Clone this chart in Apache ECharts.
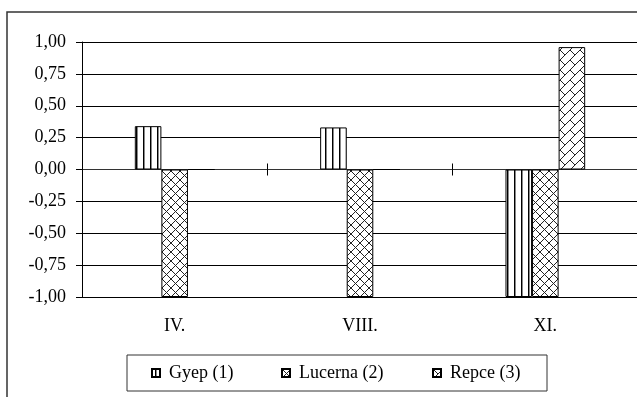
<!DOCTYPE html>
<html>
<head>
<meta charset="utf-8">
<script src="https://cdn.jsdelivr.net/npm/echarts@6/dist/echarts.min.js"></script>
<style>
html,body{margin:0;padding:0;background:#fff;overflow:hidden;width:637px;height:397px;}
#c{width:640px;height:397px;}
</style>
</head>
<body>
<div id="c"></div>
<script>
const categories = ['IV.', 'VIII.', 'XI.'];
const seriesNames = ['Gyep (1)', 'Lucerna (2)', 'Repce (3)'];
const gyep = [0.34, 0.33, -1.00];
const lucerna = [-1.00, -1.00, -1.00];
const repce = [0, 0, 0.96];
const yTicks = { min: -1, max: 1, interval: 0.25 };

function tile(w, h, draw) {
  const c = document.createElement('canvas');
  c.width = w; c.height = h;
  const ctx = c.getContext('2d');
  ctx.fillStyle = '#fff';
  ctx.fillRect(0, 0, w, h);
  draw(ctx, w, h);
  return c;
}
const patGyep = tile(7, 10, (ctx, w, h) => {
  ctx.fillStyle = '#000';
  ctx.fillRect(3, 0, 1, h);
  ctx.fillStyle = '#888';
  ctx.fillRect(4, 0, 1, h);
});
const patLucerna = tile(9, 9, (ctx, w, h) => {
  ctx.strokeStyle = '#222';
  ctx.lineWidth = 1;
  ctx.beginPath();
  ctx.moveTo(0, 0); ctx.lineTo(w, h);
  ctx.moveTo(w, 0); ctx.lineTo(0, h);
  ctx.stroke();
});
const patRepce = tile(10, 10, (ctx, w, h) => {
  ctx.strokeStyle = '#222';
  ctx.lineWidth = 1;
  ctx.beginPath();
  ctx.moveTo(0, h); ctx.lineTo(w, 0);
  ctx.moveTo(0, 0); ctx.lineTo(w / 2, h / 2);
  ctx.stroke();
});
const patterns = [patGyep, patLucerna, patRepce];
const values = [gyep, lucerna, repce];

const font = '"Liberation Serif", "Times New Roman", serif';
const fs = 18;
const chart = echarts.init(document.getElementById('c'), null, { renderer: 'canvas' });

const legendLefts = [151, 281, 432];

chart.setOption({
  animation: false,
  backgroundColor: '#fff',
  textStyle: { fontFamily: font },
  grid: { left: 82, right: 2, top: 42, bottom: 100 },
  graphic: [
    { type: 'rect', shape: { x: 7, y: 12, width: 700, height: 500 },
      style: { fill: 'none', stroke: '#333', lineWidth: 1.5 }, silent: true, z: 0 },
    { type: 'rect', shape: { x: 127, y: 355, width: 420, height: 36 },
      style: { fill: '#fff', stroke: '#333', lineWidth: 1 }, silent: true, z: 0 }
  ],
  legend: seriesNames.map((n, i) => ({
    data: [n],
    left: legendLefts[i],
    top: 364,
    padding: 0,
    itemWidth: 8,
    itemHeight: 8,
    itemGap: 0,
    textStyle: { fontFamily: font, fontSize: fs, color: '#000', padding: [0, 0, 0, 4] },
    icon: 'rect',
    selectedMode: false,
    z: 5
  })),
  xAxis: [
    {
      type: 'category', data: categories, position: 'bottom',
      axisLine: { show: false, onZero: false },
      axisTick: { show: false },
      splitLine: { show: false },
      axisLabel: { fontFamily: font, fontSize: fs, color: '#000', margin: 20 }
    },
    {
      type: 'category', data: categories, position: 'bottom',
      axisLine: { show: true, onZero: true, onZeroAxisIndex: 0, lineStyle: { color: '#333', width: 1 } },
      axisTick: { show: true, length: 6, lineStyle: { color: '#000' } },
      axisLabel: { show: false },
      splitLine: { show: false }
    },
    {
      type: 'category', data: categories, position: 'bottom',
      axisLine: { show: true, onZero: true, onZeroAxisIndex: 1, lineStyle: { color: '#333', width: 1 } },
      axisTick: { show: true, inside: true, length: 6, lineStyle: { color: '#000' } },
      axisLabel: { show: false },
      splitLine: { show: false }
    }
  ],
  yAxis: [
    {
      type: 'value', min: yTicks.min, max: yTicks.max, interval: yTicks.interval,
      axisLine: { show: true, lineStyle: { color: '#000' } },
      axisTick: { show: true, length: 6, lineStyle: { color: '#000' } },
      splitLine: { show: true, lineStyle: { color: '#000', width: 1 } },
      axisLabel: {
        fontFamily: font, fontSize: fs, color: '#000', margin: 16,
        formatter: v => v.toFixed(2).replace('.', ',')
      }
    },
    {
      type: 'value', min: yTicks.min, max: yTicks.max, interval: yTicks.interval,
      position: 'left',
      axisLine: { show: false }, axisTick: { show: false },
      axisLabel: { show: false }, splitLine: { show: false }
    }
  ],
  series: seriesNames.map((n, i) => ({
    name: n,
    type: 'bar',
    xAxisIndex: 0,
    yAxisIndex: 0,
    data: values[i],
    barGap: '0%',
    barCategoryGap: '57%',
    itemStyle: { color: { image: patterns[i], repeat: 'repeat' }, borderColor: '#000', borderWidth: 1 },
    z: 3
  }))
});
</script>
</body>
</html>
